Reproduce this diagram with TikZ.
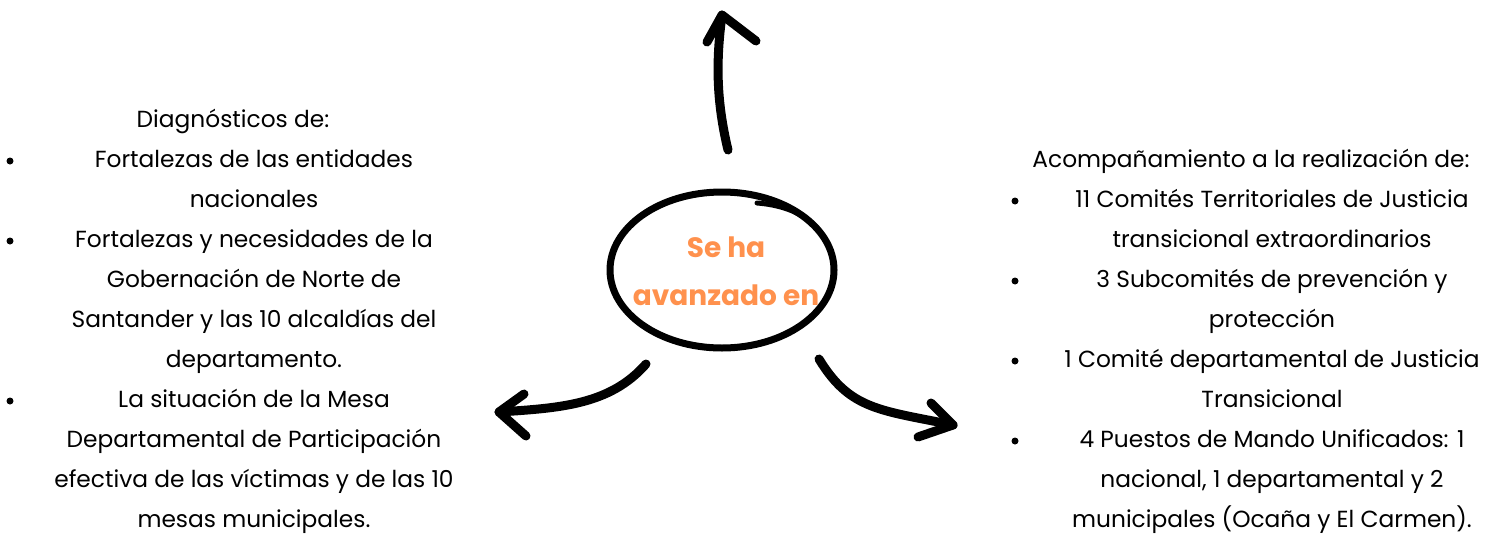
\documentclass[tikz,border=0pt]{standalone}
\usepackage{fontspec}
\setmainfont{Poppins}
\definecolor{orng}{HTML}{FF914D}
\begin{document}
\begin{tikzpicture}[x=1pt,y=-1pt,
  ln/.style={font=\fontsize{23.3}{40}\selectfont, anchor=base, inner sep=0pt},
  bul/.style={circle, fill=black, inner sep=0pt, minimum size=7pt},
  ttl/.style={font=\bfseries\fontsize{28}{48}\selectfont, text=orng, anchor=base, inner sep=0pt},
  arr/.style={line width=9pt, line cap=round, line join=round}]
\useasboundingbox (0,0) rectangle (1499,541);
% centre
\draw[line width=7pt] (722,270) ellipse [x radius=112, y radius=78];
\draw[line width=5pt, line cap=round] (757,203) .. controls (795,206) and (820,222) .. (830,250);
\node[ttl] (t1) at (726,257) {Se ha};
\node[ttl] (t2) at (726,305) {avanzado en};
% arrows
\coordinate (us) at (728,150); \coordinate (ut) at (722,15);
\draw[arr] (us) .. controls (716,100) and (716,60) .. (ut);
\draw[arr] (707,42) -- (ut) -- (756,41);
\coordinate (ls) at (646,364); \coordinate (lt) at (499,412);
\draw[arr] (ls) .. controls (610,405) and (560,408) .. (lt);
\draw[arr] (524,394) -- (lt) -- (526,436);
\coordinate (rs) at (819,359); \coordinate (rt) at (953,425);
\draw[arr] (rs) .. controls (850,410) and (880,410) .. (rt);
\draw[arr] (931,403) -- (rt) -- (918,437);
% left block
\node[ln] (a0) at (233,127) {Diagnósticos de:};
\node[ln] (a1) at (254,167) {Fortalezas de las entidades};
\node[ln] (a2) at (254,207) {nacionales};
\node[ln] (a3) at (254,247) {Fortalezas y necesidades de la};
\node[ln] (a4) at (254,287) {Gobernación de Norte de};
\node[ln] (a5) at (254,327) {Santander y las 10 alcaldías del};
\node[ln] (a6) at (254,367) {departamento.};
\node[ln] (a7) at (254,407) {La situación de la Mesa};
\node[ln] (a8) at (254,447) {Departamental de Participación};
\node[ln] (a9) at (254,487) {efectiva de las víctimas y de las 10};
\node[ln] (a10) at (254,527) {mesas municipales.};
\node[bul] (ba1) at (10,161) {};
\node[bul] (ba2) at (10,241) {};
\node[bul] (ba3) at (10,401) {};
% right block
\node[ln] (b0) at (1251,167) {Acompañamiento a la realización de:};
\node[ln] (b1) at (1272,207) {11 Comités Territoriales de Justicia};
\node[ln] (b2) at (1272,247) {transicional extraordinarios};
\node[ln] (b3) at (1272,287) {3 Subcomités de prevención y};
\node[ln] (b4) at (1272,327) {protección};
\node[ln] (b5) at (1272,367) {1 Comité departamental de Justicia};
\node[ln] (b6) at (1272,407) {Transicional};
\node[ln] (b7) at (1272,447) {4 Puestos de Mando Unificados: 1};
\node[ln] (b8) at (1272,487) {nacional, 1 departamental y 2};
\node[ln] (b9) at (1272,527) {municipales (Ocaña y El Carmen).};
\node[bul] (bb1) at (1015,201) {};
\node[bul] (bb2) at (1015,281) {};
\node[bul] (bb3) at (1015,361) {};
\node[bul] (bb4) at (1015,441) {};
\end{tikzpicture}
\end{document}
